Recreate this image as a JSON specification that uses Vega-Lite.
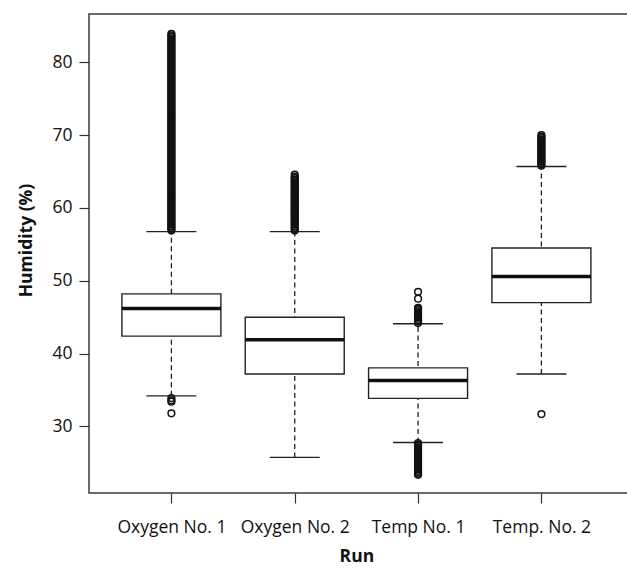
{
  "$schema": "https://vega.github.io/schema/vega-lite/v6.json",
  "autosize": "none",
  "padding": {"left": 89, "top": 14, "right": 0, "bottom": 77},
  "width": 540,
  "height": 479,
  "background": "white",
  "config": {
    "view": {"stroke": "#3a3a3a", "strokeWidth": 1.5},
    "font": "Open Sans",
    "axis": {
      "domain": false,
      "grid": false,
      "tickSize": 10,
      "tickColor": "#333333",
      "tickWidth": 1.2,
      "labelFont": "Open Sans",
      "labelFontSize": 17.5,
      "labelColor": "#111111",
      "titleFont": "Open Sans",
      "titleFontSize": 17.5,
      "titleFontWeight": "bold",
      "titleColor": "#111111"
    }
  },
  "datasets": {
    "stats": [
      {"run": "Oxygen No. 1", "lw": 34.2, "q1": 42.4, "med": 46.2, "q3": 48.2, "uw": 56.75},
      {"run": "Oxygen No. 2", "lw": 25.75, "q1": 37.2, "med": 41.9, "q3": 45.0, "uw": 56.75},
      {"run": "Temp No. 1", "lw": 27.8, "q1": 33.85, "med": 36.3, "q3": 38.05, "uw": 44.1},
      {"run": "Temp. No. 2", "lw": 37.2, "q1": 47.0, "med": 50.6, "q3": 54.5, "uw": 65.7}
    ],
    "outliers": [
      {"run": "Oxygen No. 1", "v": [31.8, 33.4, 33.6, 33.9, 56.9, 57.1, 57.3, 57.5, 57.7, 57.9, 58.1, 58.3, 58.5, 58.7, 58.9, 59.1, 59.3, 59.5, 59.7, 59.9, 60.1, 60.3, 60.5, 60.7, 60.9, 61.1, 61.3, 61.5, 61.7, 61.9, 62.1, 62.3, 62.5, 62.7, 62.9, 63.1, 63.3, 63.5, 63.7, 63.9, 64.1, 64.3, 64.5, 64.7, 64.9, 65.1, 65.3, 65.5, 65.7, 65.9, 66.1, 66.3, 66.5, 66.7, 66.9, 67.1, 67.3, 67.5, 67.7, 67.9, 68.1, 68.3, 68.5, 68.7, 68.9, 69.1, 69.3, 69.5, 69.7, 69.9, 70.1, 70.3, 70.5, 70.7, 70.9, 71.1, 71.3, 71.5, 71.7, 71.9, 72.1, 72.3, 72.5, 72.7, 72.9, 73.1, 73.3, 73.5, 73.7, 73.9, 74.1, 74.3, 74.5, 74.7, 74.9, 75.1, 75.3, 75.5, 75.7, 75.9, 76.1, 76.3, 76.5, 76.7, 76.9, 77.1, 77.3, 77.5, 77.7, 77.9, 78.1, 78.3, 78.5, 78.7, 78.9, 79.1, 79.3, 79.5, 79.7, 79.9, 80.1, 80.3, 80.5, 80.7, 80.9, 81.1, 81.3, 81.5, 81.7, 81.9, 82.1, 82.3, 82.5, 82.7, 82.9, 83.1, 83.3, 83.5, 83.7, 83.9]},
      {"run": "Oxygen No. 2", "v": [56.9, 57.1, 57.3, 57.5, 57.7, 57.9, 58.1, 58.3, 58.5, 58.7, 58.9, 59.1, 59.3, 59.5, 59.7, 59.9, 60.1, 60.3, 60.5, 60.7, 60.9, 61.1, 61.3, 61.5, 61.7, 61.9, 62.1, 62.3, 62.5, 62.7, 62.9, 63.1, 63.3, 63.5, 63.7, 63.9, 64.1, 64.3, 64.6]},
      {"run": "Temp No. 1", "v": [23.35, 23.5, 23.7, 23.9, 24.1, 24.3, 24.5, 24.7, 24.9, 25.1, 25.3, 25.5, 25.7, 25.9, 26.1, 26.3, 26.5, 26.7, 26.9, 27.1, 27.3, 27.5, 27.7, 44.2, 44.4, 44.6, 44.8, 45.0, 45.2, 45.4, 45.6, 45.8, 46.0, 46.2, 46.3, 47.55, 48.5]},
      {"run": "Temp. No. 2", "v": [31.7, 65.8, 66.0, 66.2, 66.4, 66.6, 66.8, 67.0, 67.2, 67.4, 67.6, 67.8, 68.0, 68.2, 68.4, 68.6, 68.8, 69.0, 69.2, 69.4, 69.6, 69.8, 70.0]}
    ]
  },
  "encoding": {
    "x": {
      "field": "run",
      "type": "nominal",
      "sort": ["Oxygen No. 1", "Oxygen No. 2", "Temp No. 1", "Temp. No. 2"],
      "scale": {"type": "point", "range": [82.4, 452.4], "padding": 0},
      "axis": {"title": "Run", "labelAngle": 0, "labelPadding": 15, "titlePadding": 12}
    }
  },
  "layer": [
    {
      "data": {"name": "stats"},
      "mark": {"type": "rule", "strokeDash": [5, 3.5], "strokeWidth": 1.3, "color": "#222222"},
      "encoding": {
        "y": {
          "field": "lw",
          "type": "quantitative",
          "scale": {"domain": [20.86, 86.64], "nice": false, "zero": false},
          "axis": {"title": "Humidity (%)", "values": [30, 40, 50, 60, 70, 80], "labelPadding": 7, "titlePadding": 16, "titleY": 226}
        },
        "y2": {"field": "uw"}
      }
    },
    {
      "data": {"name": "stats"},
      "mark": {"type": "bar", "size": 99, "fill": "white", "stroke": "#222222", "strokeWidth": 1.4},
      "encoding": {
        "y": {"field": "q1", "type": "quantitative"},
        "y2": {"field": "q3"}
      }
    },
    {
      "data": {"name": "stats"},
      "mark": {"type": "tick", "size": 99, "thickness": 3.5, "color": "#111111", "opacity": 1},
      "encoding": {"y": {"field": "med", "type": "quantitative"}}
    },
    {
      "data": {"name": "stats"},
      "mark": {"type": "tick", "size": 50, "thickness": 1.4, "color": "#222222", "opacity": 1},
      "encoding": {"y": {"field": "lw", "type": "quantitative"}}
    },
    {
      "data": {"name": "stats"},
      "mark": {"type": "tick", "size": 50, "thickness": 1.4, "color": "#222222", "opacity": 1},
      "encoding": {"y": {"field": "uw", "type": "quantitative"}}
    },
    {
      "data": {"name": "outliers"},
      "transform": [{"flatten": ["v"]}],
      "mark": {"type": "point", "shape": "circle", "filled": false, "size": 45, "strokeWidth": 1.5, "color": "#111111", "opacity": 1},
      "encoding": {"y": {"field": "v", "type": "quantitative"}}
    }
  ]
}
